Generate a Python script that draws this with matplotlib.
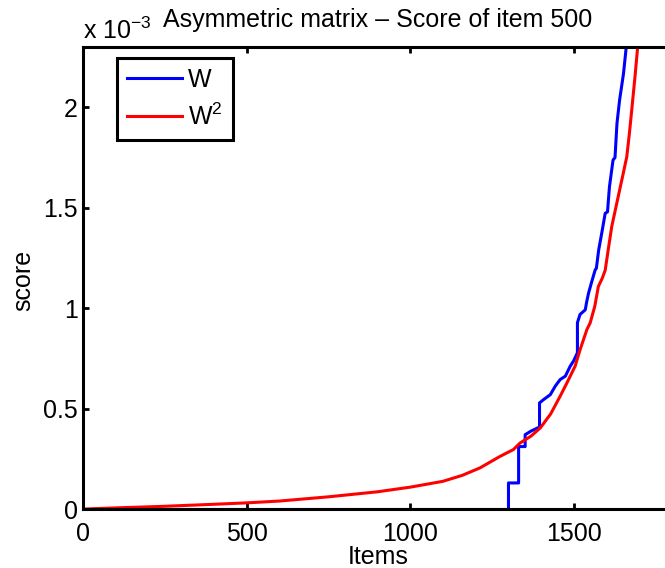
import numpy as np
import matplotlib
matplotlib.use("Agg")
import matplotlib.pyplot as plt

plt.rcParams['font.family'] = ['Liberation Sans', 'DejaVu Sans']
plt.rcParams['mathtext.fontset'] = 'custom'
plt.rcParams['mathtext.rm'] = 'Liberation Sans'
plt.rcParams['font.size'] = 18

# scores (x 1e-3)
w_items = [0, 1301, 1301, 1332, 1332, 1352, 1352, 1370, 1396, 1396, 1408, 1429,
           1444, 1459, 1475, 1490, 1500, 1512, 1512, 1520, 1536, 1540, 1546,
           1556, 1566, 1570, 1577, 1587, 1597, 1604, 1610, 1621, 1627, 1633, 1641,
           1653, 1661, 1670]
w_score = [0, 0, 0.132, 0.132, 0.313, 0.313, 0.372, 0.39, 0.41, 0.53, 0.546, 0.571,
           0.613, 0.646, 0.663, 0.713, 0.738, 0.78, 0.929, 0.97, 0.993, 1.03, 1.076,
           1.134, 1.19, 1.20, 1.29, 1.38, 1.473, 1.48, 1.605, 1.738, 1.75, 1.92, 2.036,
           2.168, 2.294, 2.4]

w2_items = [0, 100, 250, 400, 500, 600, 750, 900, 1000, 1100, 1160, 1214, 1275,
            1316, 1336, 1370, 1398, 1430, 1459, 1480, 1505, 1520, 1541, 1551, 1565,
            1576, 1588, 1597, 1607, 1617, 1628, 1640, 1652, 1663, 1671, 1679, 1688,
            1696, 1710]
w2_score = [0.002, 0.008, 0.016, 0.026, 0.033, 0.042, 0.063, 0.088, 0.111, 0.14,
            0.17, 0.207, 0.264, 0.298, 0.33, 0.365, 0.405, 0.475, 0.563, 0.63, 0.713,
            0.794, 0.895, 0.928, 1.01, 1.109, 1.15, 1.19, 1.30, 1.407, 1.49, 1.58,
            1.67, 1.754, 1.87, 2.0, 2.15, 2.294, 2.45]

fig = plt.figure(figsize=(6.65, 5.68), dpi=100)
ax = fig.add_axes([0.1253, 0.103, 0.887, 0.8143])

ax.plot(w_items, np.array(w_score) * 1e-3, color='#0000ff', lw=2.2, label='W')
ax.plot(w2_items, np.array(w2_score) * 1e-3, color='#ff0000', lw=2.2, label=r'W$\mathregular{^2}$')

ax.set_xlim(0, 1805)
ax.set_ylim(0, 2.3e-3)
ax.set_xticks([0, 500, 1000, 1500])
ax.set_yticks([0, 0.5e-3, 1e-3, 1.5e-3, 2e-3])
ax.set_yticklabels(['0', '0.5', '1', '1.5', '2'])

for s in ax.spines.values():
    s.set_linewidth(2.2)
ax.tick_params(direction='in', length=4, width=2, top=True, right=True)
ax.tick_params(axis='x', pad=9)
ax.tick_params(axis='y', pad=4)

leg = ax.legend(loc='upper left', bbox_to_anchor=(0.057, 0.976), fancybox=False,
                handlelength=2.2, handletextpad=0.25, labelspacing=0.45,
                borderpad=0.4, borderaxespad=0, fontsize=18)
leg.get_frame().set_edgecolor('black')
leg.get_frame().set_linewidth(2.2)
leg.get_frame().set_alpha(1)

fig.text(378 / 665, 1 - 27 / 568, 'Asymmetric matrix \u2013 Score of item 500',
         ha='center', va='baseline', fontsize=18)
fig.text(83 / 665, 1 - 39 / 568, r'x 10$\mathregular{^{-3}}$',
         ha='left', va='baseline', fontsize=18)
fig.text(378 / 665, 1 - 557 / 568, 'Items', ha='center', va='center', fontsize=18)
fig.text(23 / 665, 1 - 280 / 568, 'score', ha='center', va='center',
         rotation=90, fontsize=18)

fig.savefig('out.png', dpi=100)
